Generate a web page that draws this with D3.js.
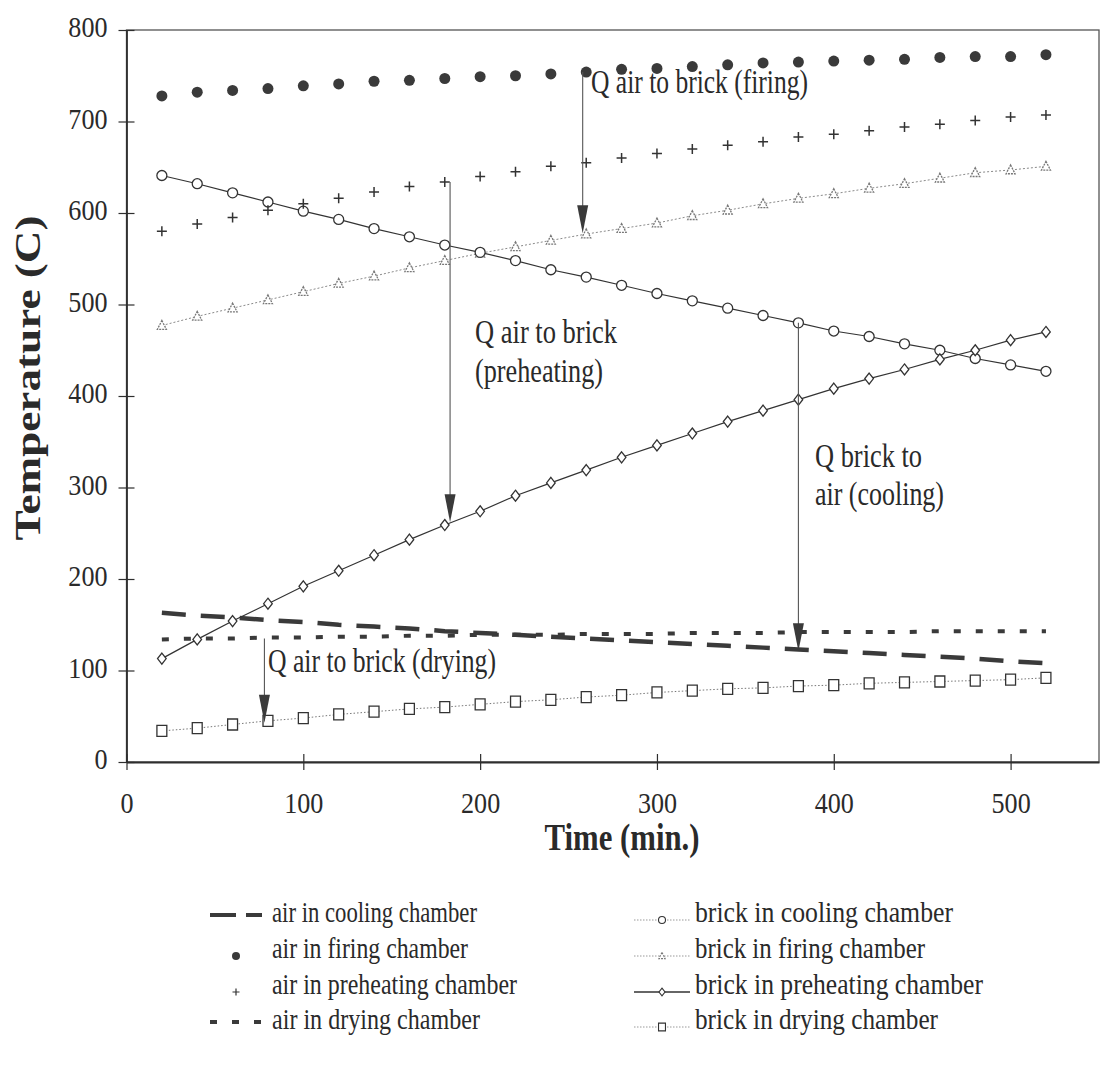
<!DOCTYPE html>
<html>
<head>
<meta charset="utf-8">
<script src="https://cdn.jsdelivr.net/npm/d3@7"></script>
<style>
  body { margin: 0; background: #fff; }
  text { font-family: "Liberation Serif", "Times New Roman", serif; fill: #2a2a2a; }
</style>
</head>
<body>
<svg id="chart" width="1102" height="1066"></svg>
<script>
// time axis (min.)
const time = [20,40,60,80,100,120,140,160,180,200,220,240,260,280,300,320,340,360,380,400,420,440,460,480,500,520];

// temperatures (C)
const airCooling      = [163,160,158,155,153,150,148,146,143,141,139,137,135,133,131,129,127,125,123,121,119,117,115,113,110,108];
const airFiring       = [728,732,734,736,739,741,744,745,747,749,750,752,754,757,758,760,762,764,765,766,767,768,770,771,771,773];
const airPreheating   = [580,588,595,603,610,616,623,629,634,640,645,651,655,660,665,670,674,678,683,686,690,694,697,701,705,707];
const airDrying       = [134,135,135,136,136,137,137,138,138,139,139,139,140,140,140,141,141,141,142,142,142,142,143,143,143,143];
const brickCooling    = [641,632,622,612,602,593,583,574,565,557,548,538,530,521,512,504,496,488,480,471,465,457,450,441,434,427];
const brickFiring     = [477,487,496,505,514,523,531,540,548,556,563,570,577,583,589,597,603,610,616,621,627,632,638,644,647,651];
const brickPreheating = [113,134,154,173,192,209,226,243,259,274,291,305,319,333,346,359,372,384,396,408,419,429,440,450,461,470];
const brickDrying     = [34,37,41,45,48,52,55,58,60,63,66,68,71,73,76,78,80,81,83,84,86,87,88,89,90,92];

const xTicks = [0,100,200,300,400,500];
const yTicks = [0,100,200,300,400,500,600,700,800];

const airLabels   = ["air in cooling chamber","air in firing chamber","air in preheating chamber","air in drying chamber"];
const brickLabels = ["brick in cooling chamber","brick in firing chamber","brick in preheating chamber","brick in drying chamber"];

// heat flow arrows: time, from temp, to temp
const arrowTime = [258, 183, 380, 78];
const arrowFrom = [754, 634, 480, 135];
const arrowTo   = [578, 262, 121, 43];
const noteLines = [["Q air to brick (firing)"], ["Q air to brick","(preheating)"], ["Q brick to","air (cooling)"], ["Q air to brick (drying)"]];

const svg = d3.select("#chart");
const x = d3.scaleLinear([0,550],[126.5,1099]);
const y = d3.scaleLinear([0,800],[762,30]);
const ink = "#2e2e2e";

function squeeze(sel, k){
  sel.each(function(){
    const w = this.getComputedTextLength();
    d3.select(this).attr("textLength", w*k).attr("lengthAdjust","spacingAndGlyphs");
  });
}
function fit(sel, w){
  sel.attr("textLength", w).attr("lengthAdjust","spacingAndGlyphs");
}

// marker shapes
const shapes = {
  circle: r => d3.symbol(d3.symbolCircle, Math.PI*r*r)(),
  triangle: s => `M0,${-s}L${s*0.9},${s*0.75}L${-s*0.9},${s*0.75}Z`,
  diamond: s => `M0,${-s*1.15}L${s*0.9},0L0,${s*1.15}L${-s*0.9},0Z`,
  square: s => `M${-s*0.9},${-s}H${s*0.9}V${s}H${-s*0.9}Z`,
  plus: s => `M${-s},0H${s}M0,${-s}V${s}`
};

// frame
svg.append("rect")
  .attr("x", x(0)).attr("y", y(800))
  .attr("width", x(550)-x(0)).attr("height", y(0)-y(800))
  .attr("fill","none").attr("stroke","#555").attr("stroke-width",1.3);

// axes
const yAxis = svg.append("g").attr("transform",`translate(${x(0)},0)`)
  .call(d3.axisLeft(y).tickValues(yTicks).tickSize(8).tickSizeOuter(0).tickPadding(11));
yAxis.selectAll(".tick line").attr("x1",8).attr("stroke",ink).attr("stroke-width",1.2);
yAxis.select(".domain").attr("stroke",ink).attr("stroke-width",1.8);
yAxis.selectAll(".tick text").attr("font-size",30).attr("dy","0.22em").attr("fill","#2a2a2a").attr("font-family","Liberation Serif").call(squeeze,0.87);

const xAxis = svg.append("g").attr("transform",`translate(0,${y(0)})`)
  .call(d3.axisBottom(x).tickValues(xTicks).tickSize(8).tickSizeOuter(0).tickPadding(22));
xAxis.selectAll(".tick line").attr("y1",-8).attr("stroke",ink).attr("stroke-width",1.2);
xAxis.select(".domain").attr("stroke",ink).attr("stroke-width",1.8);
xAxis.selectAll(".tick text").attr("font-size",30).attr("fill","#2a2a2a").attr("font-family","Liberation Serif").call(squeeze,0.87);

// axis titles
svg.append("text").attr("transform","translate(40,378) rotate(-90)")
  .attr("text-anchor","middle").attr("font-size",36).attr("font-weight","bold")
  .text("Temperature (C)").call(fit,325);
svg.append("text").attr("x",622).attr("y",850)
  .attr("text-anchor","middle").attr("font-size",38).attr("font-weight","bold")
  .text("Time (min.)").call(fit,155);

const pts = arr => time.map((t,i) => [t, arr[i]]);
const line = d3.line().x(d => x(d[0])).y(d => y(d[1]));

// dashed air lines
svg.append("path").datum(pts(airCooling)).attr("d",line)
  .attr("fill","none").attr("stroke","#3a3a3a").attr("stroke-width",4.5).attr("stroke-dasharray","24 15");
svg.append("path").datum(pts(airDrying)).attr("d",line)
  .attr("fill","none").attr("stroke","#3a3a3a").attr("stroke-width",4).attr("stroke-dasharray","7 15");

// brick lines with markers
const brickSeries = [
  {data: brickFiring, shape:"triangle", size:5, lineColor:"#8a8a8a", lineDash:"2 2", lineW:1, mColor:"#777", mDash:"2 1"},
  {data: brickDrying, shape:"square", size:5.5, lineColor:"#777", lineDash:"1.5 2", lineW:1, mColor:"#333", mDash:null},
  {data: brickCooling, shape:"circle", size:5, lineColor:"#333", lineDash:null, lineW:1.2, mColor:"#333", mDash:null},
  {data: brickPreheating, shape:"diamond", size:4.8, lineColor:"#333", lineDash:null, lineW:1.2, mColor:"#333", mDash:null}
];
brickSeries.forEach(s => {
  svg.append("path").datum(pts(s.data)).attr("d",line)
    .attr("fill","none").attr("stroke",s.lineColor).attr("stroke-width",s.lineW)
    .attr("stroke-dasharray",s.lineDash);
  svg.append("g").selectAll("path").data(pts(s.data)).join("path")
    .attr("transform", d => `translate(${x(d[0])},${y(d[1])})`)
    .attr("d", shapes[s.shape](s.size))
    .attr("fill","#fff").attr("stroke",s.mColor).attr("stroke-width",1.3)
    .attr("stroke-dasharray",s.mDash);
});

// air marker series
svg.append("g").selectAll("path").data(pts(airFiring)).join("path")
  .attr("transform", d => `translate(${x(d[0])},${y(d[1])})`)
  .attr("d", shapes.circle(5.5)).attr("fill","#3a3a3a");
svg.append("g").selectAll("path").data(pts(airPreheating)).join("path")
  .attr("transform", d => `translate(${x(d[0])},${y(d[1])})`)
  .attr("d", shapes.plus(5)).attr("fill","none").attr("stroke","#333").attr("stroke-width",1.5);

// heat flow arrows
const headLen = 28, headW = 5.5;
arrowTime.forEach((t,i) => {
  const ax = x(t), y0 = y(arrowFrom[i]), y1 = y(arrowTo[i]);
  svg.append("line").attr("x1",ax).attr("x2",ax).attr("y1",y0).attr("y2",y1-headLen+2)
    .attr("stroke","#555").attr("stroke-width",1.1);
  svg.append("path").attr("d",`M${ax},${y1}L${ax-headW},${y1-headLen}L${ax+headW},${y1-headLen}Z`)
    .attr("fill","#3a3a3a");
});

// annotation text
const notePos = [
  {x:591, y:[93], w:[217]},
  {x:475, y:[343,382], w:[142,128]},
  {x:815, y:[467,505], w:[107,129]},
  {x:268, y:[672], w:[228]}
];
noteLines.forEach((lines,i) => {
  lines.forEach((txt,j) => {
    svg.append("text").attr("x",notePos[i].x).attr("y",notePos[i].y[j])
      .attr("font-size",33).text(txt).call(fit,notePos[i].w[j]);
  });
});

// legend
const rowY = [913, 949, 985, 1020];
const airW = [205, 196, 245, 208];
const brickW = [258, 230, 288, 243];
const lg = svg.append("g");
airLabels.forEach((lab,i) => {
  lg.append("text").attr("x",272).attr("y",rowY[i]+9).attr("font-size",29).text(lab).call(fit,airW[i]);
});
brickLabels.forEach((lab,i) => {
  lg.append("text").attr("x",695).attr("y",rowY[i]+9).attr("font-size",29).text(lab).call(fit,brickW[i]);
});
// air swatches
lg.append("line").attr("x1",210).attr("x2",262).attr("y1",rowY[0]+2).attr("y2",rowY[0]+2)
  .attr("stroke","#3a3a3a").attr("stroke-width",4).attr("stroke-dasharray","26 10");
lg.append("path").attr("transform",`translate(236,${rowY[1]+7})`).attr("d",shapes.circle(4)).attr("fill","#3a3a3a");
lg.append("path").attr("transform",`translate(236,${rowY[2]+7})`).attr("d",shapes.plus(3.5))
  .attr("stroke","#333").attr("stroke-width",1.2);
lg.append("line").attr("x1",210).attr("x2",262).attr("y1",rowY[3]+2).attr("y2",rowY[3]+2)
  .attr("stroke","#3a3a3a").attr("stroke-width",4).attr("stroke-dasharray","7 15");
// brick swatches
[brickSeries[2], brickSeries[0], brickSeries[3], brickSeries[1]].forEach((s,i) => {
  const cy = rowY[i] + 7;
  lg.append("line").attr("x1",634).attr("x2",690).attr("y1",cy).attr("y2",cy)
    .attr("stroke", i === 2 ? "#333" : "#999").attr("stroke-width", i === 2 ? 1.3 : 1)
    .attr("stroke-dasharray", i === 2 ? null : "1.5 1.5");
  lg.append("path").attr("transform",`translate(662,${cy})`).attr("d",shapes[s.shape](s.size*0.7))
    .attr("fill","#fff").attr("stroke",s.mColor).attr("stroke-width",1.1).attr("stroke-dasharray",s.mDash);
});
</script>
</body>
</html>
